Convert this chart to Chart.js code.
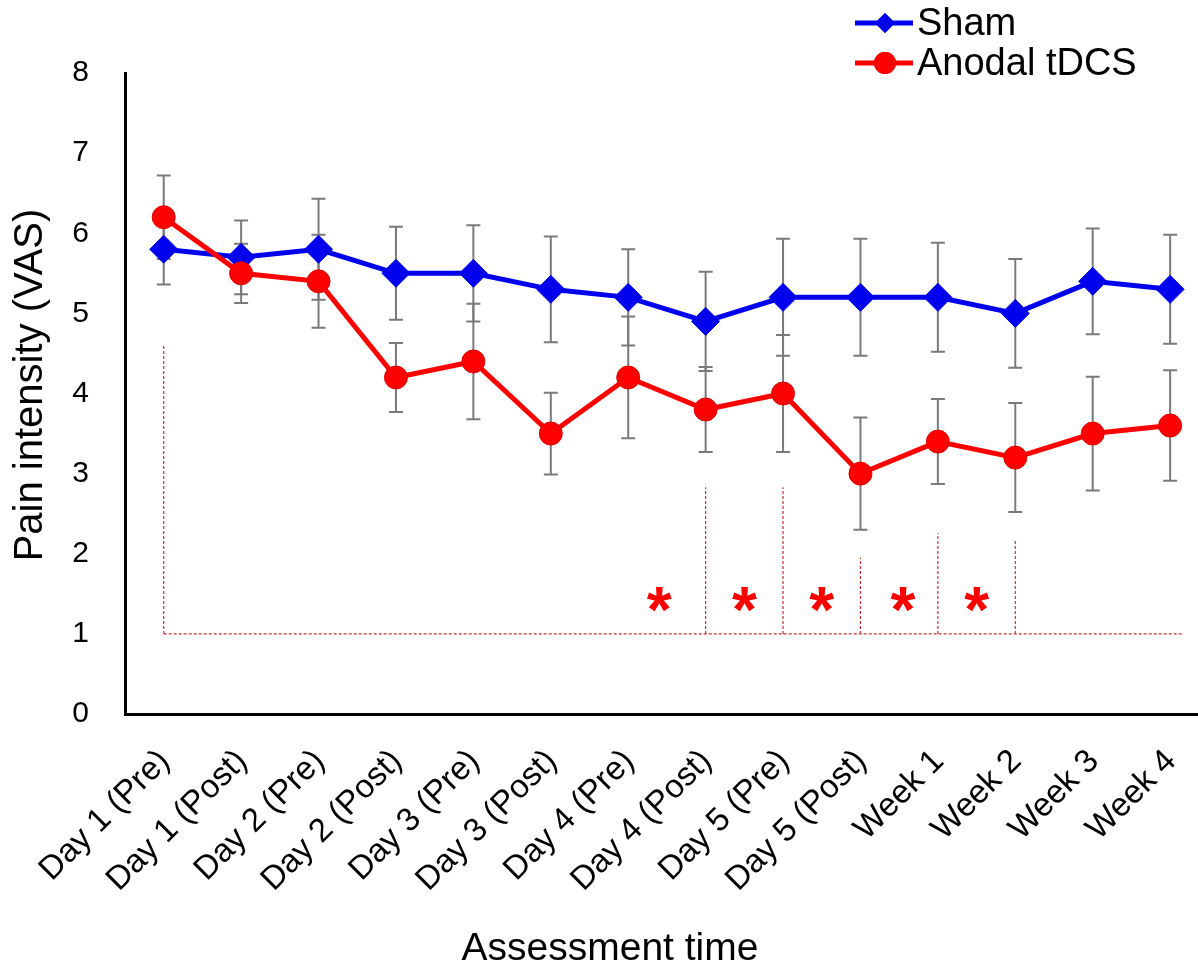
<!DOCTYPE html>
<html>
<head>
<meta charset="utf-8">
<script src="https://cdn.jsdelivr.net/npm/chart.js@4.4.1/dist/chart.umd.min.js"></script>
<style>
  html, body { margin: 0; padding: 0; background: #fff; overflow: hidden; }
  canvas { display: block; }
</style>
</head>
<body>
<canvas id="chartVAS" width="1198" height="965"></canvas>
<script>
const timeLabels = [
  "Day 1 (Pre)", "Day 1 (Post)", "Day 2 (Pre)", "Day 2 (Post)",
  "Day 3 (Pre)", "Day 3 (Post)", "Day 4 (Pre)", "Day 4 (Post)",
  "Day 5 (Pre)", "Day 5 (Post)", "Week 1", "Week 2", "Week 3", "Week 4"
];
const shamMean = [5.8, 5.7, 5.8, 5.5, 5.5, 5.3, 5.2, 4.9, 5.2, 5.2, 5.2, 5.0, 5.4, 5.3];
const shamSD   = [0.44, 0.46, 0.63, 0.58, 0.6, 0.66, 0.6, 0.62, 0.73, 0.73, 0.68, 0.68, 0.66, 0.68];
const tdcsMean = [6.2, 5.5, 5.4, 4.2, 4.4, 3.5, 4.2, 3.8, 4.0, 3.0, 3.4, 3.2, 3.5, 3.6];
const tdcsSD   = [0.52, 0.37, 0.58, 0.43, 0.72, 0.51, 0.76, 0.53, 0.73, 0.7, 0.53, 0.68, 0.71, 0.69];

// significance brackets (x index, top value) and stars
const bracketIdx = [0, 7, 8, 9, 10, 11];
const bracketTop = [4.6, 2.83, 2.83, 1.95, 2.26, 2.16];
const bracketBase = 1;
const bracketEnd = 13.15;
const starPos = [6.4, 7.5, 8.5, 9.55, 10.5];
const starLevel = 1.5;

const FONT = '"Liberation Sans", Arial, sans-serif';
const blue = "#0000ee";
const red = "#ff0000";

const toXY = (arr) => arr.map((v, i) => ({ x: i, y: v }));

const errorBars = {
  id: "errorBars",
  beforeDatasetsDraw(chart) {
    const { ctx, scales: { x, y } } = chart;
    ctx.save();
    // brackets
    ctx.strokeStyle = "#c83232";
    ctx.lineWidth = 1.2;
    ctx.setLineDash([3, 2]);
    ctx.beginPath();
    ctx.moveTo(x.getPixelForValue(bracketIdx[0]), y.getPixelForValue(bracketBase));
    ctx.lineTo(x.getPixelForValue(bracketEnd), y.getPixelForValue(bracketBase));
    bracketIdx.forEach((idx, k) => {
      const px = x.getPixelForValue(idx);
      ctx.moveTo(px, y.getPixelForValue(bracketBase));
      ctx.lineTo(px, y.getPixelForValue(bracketTop[k]));
    });
    ctx.stroke();
    ctx.setLineDash([]);

    // error bars
    ctx.strokeStyle = "#7a7a7a";
    ctx.lineWidth = 2;
    chart.data.datasets.forEach((ds) => {
      ds.data.forEach((pt, i) => {
        const sd = ds.errors[i];
        const px = x.getPixelForValue(pt.x);
        const top = y.getPixelForValue(pt.y + sd);
        const bot = y.getPixelForValue(pt.y - sd);
        ctx.beginPath();
        ctx.moveTo(px, top); ctx.lineTo(px, bot);
        ctx.moveTo(px - 7, top); ctx.lineTo(px + 7, top);
        ctx.moveTo(px - 7, bot); ctx.lineTo(px + 7, bot);
        ctx.stroke();
      });
    });
    ctx.restore();
  },
  afterDraw(chart) {
    const { ctx, scales: { x, y } } = chart;
    ctx.save();
    // stars
    ctx.fillStyle = red;
    ctx.font = "bold 64px " + FONT;
    ctx.textAlign = "center";
    ctx.textBaseline = "alphabetic";
    starPos.forEach((p) => {
      ctx.fillText("*", x.getPixelForValue(p), y.getPixelForValue(starLevel) + 38);
    });

    // axis titles
    ctx.fillStyle = "#000";
    ctx.font = "39px " + FONT;
    ctx.fillText("Assessment time", 610, 960);

    ctx.save();
    ctx.translate(31, 385);
    ctx.rotate(-Math.PI / 2);
    ctx.font = "40px " + FONT;
    ctx.textBaseline = "middle";
    ctx.fillText("Pain intensity (VAS)", 0, 0);
    ctx.restore();

    // legend
    const items = [
      { text: "Sham", color: blue, style: "rectRot", r: 10, yy: 23 },
      { text: "Anodal tDCS", color: red, style: "circle", r: 11, yy: 63 }
    ];
    items.forEach((it) => {
      ctx.strokeStyle = it.color;
      ctx.lineWidth = 5;
      ctx.beginPath();
      ctx.moveTo(855, it.yy); ctx.lineTo(913, it.yy);
      ctx.stroke();
      ctx.fillStyle = it.color;
      Chart.helpers.drawPoint(ctx, { pointStyle: it.style, radius: it.r, borderWidth: 0 }, 885, it.yy);
      ctx.fill();
      ctx.fillStyle = "#000";
      ctx.font = "38px " + FONT;
      ctx.textAlign = "left";
      ctx.textBaseline = "middle";
      ctx.fillText(it.text, 917, it.yy + 2);
    });
    ctx.restore();
  }
};

new Chart(document.getElementById("chartVAS"), {
  type: "line",
  data: {
    datasets: [
      {
        label: "Sham",
        data: toXY(shamMean),
        errors: shamSD,
        borderColor: blue,
        backgroundColor: blue,
        borderWidth: 5,
        pointStyle: "rectRot",
        pointRadius: 14,
        pointBorderWidth: 1,
        pointBorderColor: blue,
        pointBackgroundColor: blue,
        order: 1
      },
      {
        label: "Anodal tDCS",
        data: toXY(tdcsMean),
        errors: tdcsSD,
        borderColor: red,
        backgroundColor: red,
        borderWidth: 5,
        pointStyle: "circle",
        pointRadius: 11.5,
        pointBorderWidth: 1,
        pointBorderColor: "#e00000",
        pointBackgroundColor: red,
        order: 0
      }
    ]
  },
  options: {
    responsive: false,
    animation: false,
    layout: { autoPadding: false, padding: { top: 73, right: 0, left: 0, bottom: 0 } },
    plugins: { legend: { display: false }, tooltip: { enabled: false } },
    scales: {
      x: {
        type: "linear",
        min: -0.5,
        max: 13.36,
        afterBuildTicks: (s) => { s.ticks = timeLabels.map((_, i) => ({ value: i })); },
        afterFit: (s) => { s.height = 965 - 714; s.paddingLeft = 0; s.paddingRight = 0; },
        grid: { display: false },
        border: { color: "#000", width: 3 },
        ticks: {
          autoSkip: false,
          maxRotation: 45,
          minRotation: 45,
          padding: 20,
          labelOffset: 1,
          color: "#000",
          font: { size: 33, family: FONT },
          callback: (v) => timeLabels[v]
        }
      },
      y: {
        min: 0,
        max: 8,
        afterFit: (s) => { s.width = 125; s.paddingTop = 0; s.paddingBottom = 0; },
        grid: { display: false },
        border: { color: "#000", width: 3 },
        ticks: {
          stepSize: 1,
          padding: 28,
          color: "#000",
          font: { size: 30, family: FONT }
        }
      }
    }
  },
  plugins: [errorBars]
});
</script>
</body>
</html>
